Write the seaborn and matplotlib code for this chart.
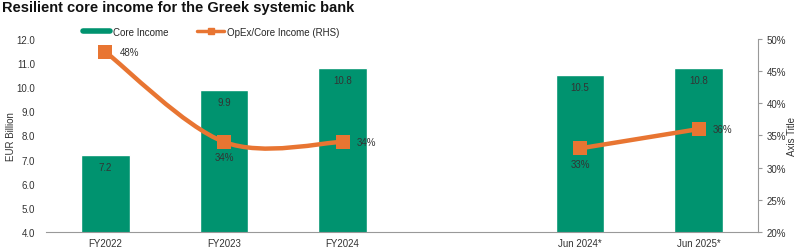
import numpy as np
import pandas as pd
import matplotlib
matplotlib.use("Agg")
import matplotlib.pyplot as plt
from matplotlib.path import Path
from matplotlib.patches import PathPatch
from matplotlib.lines import Line2D
import seaborn as sns

categories = ["FY2022", "FY2023", "FY2024", "", "Jun 2024*", "Jun 2025*"]
core_income = [7.2, 9.9, 10.8, np.nan, 10.5, 10.8]
opex_ratio = [48, 34, 34, np.nan, 33, 36]
ratio_labels = ["48%", "34%", "34%", "", "33%", "36%"]
label_pos = ["right", "below", "right", "", "below", "right"]

BAR = "#00936F"
ORANGE = "#E87532"
TXT = "#333333"

sns.set_theme(style="white")
plt.rcParams["font.family"] = ["Liberation Sans", "DejaVu Sans"]

fig = plt.figure(figsize=(8.0, 2.51), dpi=100)
ax = fig.add_axes([0.0575, 0.0717, 0.89, 0.769])

df = pd.DataFrame({"cat": categories, "val": core_income})
sns.barplot(data=df, x="cat", y="val", order=categories, color=BAR, width=0.41,
            saturation=1, ax=ax, errorbar=None)
ax.set_xlim(-0.5, 5.5)
ax.set_ylim(4, 12)
ax.set_yticks(np.arange(4, 12.01, 1))
ax.set_yticklabels([f"{v:.1f}" for v in np.arange(4, 12.01, 1)], fontsize=7, color=TXT)
ax.set_xlabel("")
ax.set_ylabel("EUR Billion", fontsize=7, color=TXT, labelpad=0)
ax.tick_params(axis="y", length=0, pad=8)
ax.tick_params(axis="x", which="major", length=0, labelsize=7, labelcolor=TXT, pad=4)
ax.set_xticks(np.arange(0.5, 5.5, 1), minor=True)
ax.tick_params(axis="x", which="minor", length=3, color="#999999", width=0.8)
for s in ["left", "top", "right"]:
    ax.spines[s].set_visible(False)
ax.spines["bottom"].set_color("#999999")
ax.spines["bottom"].set_linewidth(0.8)

for i, v in enumerate(core_income):
    if not np.isnan(v):
        ax.text(i, v - 0.3, f"{v:.1f}", ha="center", va="top", fontsize=7, color=TXT)

ax2 = ax.twinx()
ax2.set_ylim(20, 50)
ax2.set_yticks(np.arange(20, 51, 5))
ax2.set_yticklabels([f"{v}%" for v in range(20, 51, 5)], fontsize=7, color=TXT)
ax2.tick_params(axis="y", length=3, color="#999999", width=0.8, pad=3)
for s in ["left", "top", "bottom"]:
    ax2.spines[s].set_visible(False)
ax2.spines["right"].set_color("#999999")
ax2.spines["right"].set_linewidth(0.8)
ax2.set_ylabel("Axis Title", fontsize=7, color=TXT, labelpad=1)

# smoothed (Excel-style) line through each contiguous segment
xs = np.arange(len(categories), dtype=float)
ys = np.array(opex_ratio, dtype=float)
segments = []
cur = []
for x, y in zip(xs, ys):
    if np.isnan(y):
        if cur:
            segments.append(cur)
        cur = []
    else:
        cur.append((x, y))
if cur:
    segments.append(cur)

for seg in segments:
    P = np.array(seg)
    n = len(P)
    verts = [tuple(P[0])]
    codes = [Path.MOVETO]
    for i in range(n - 1):
        pm = P[i - 1] if i > 0 else P[i]
        p0, p1 = P[i], P[i + 1]
        p2 = P[i + 2] if i + 2 < n else P[i + 1]
        c1 = p0 + (p1 - pm) / 6.0
        c2 = p1 - (p2 - p0) / 6.0
        verts += [tuple(c1), tuple(c2), tuple(p1)]
        codes += [Path.CURVE4] * 3
    ax2.add_patch(PathPatch(Path(verts, codes), facecolor="none", edgecolor=ORANGE,
                            lw=3.2, capstyle="round", zorder=3))

ldf = pd.DataFrame({"x": xs, "y": ys}).dropna()
sns.scatterplot(data=ldf, x="x", y="y", marker="s", s=110, color=ORANGE,
                edgecolor=ORANGE, linewidth=0, ax=ax2, zorder=4, legend=False)
ax2.set_xlabel("")
ax2.set_xlim(-0.5, 5.5)

for i, (v, lab, pos) in enumerate(zip(opex_ratio, ratio_labels, label_pos)):
    if np.isnan(v):
        continue
    if pos == "right":
        ax2.text(i + 0.12, v, lab, ha="left", va="center", fontsize=7, color=TXT, zorder=5)
    else:
        ax2.text(i, v - 1.6, lab, ha="center", va="top", fontsize=7, color=TXT, zorder=5)

handles = [Line2D([0], [0], color=BAR, lw=4),
           Line2D([0], [0], color=ORANGE, lw=2.5, marker="s", markersize=5)]
fig.legend(handles, ["Core Income", "OpEx/Core Income (RHS)"], loc="upper left",
           bbox_to_anchor=(0.093, 0.925), ncol=2, frameon=False, fontsize=7,
           handlelength=2.8, columnspacing=2.9, handletextpad=0.3)

fig.text(0.003, 0.998, "Resilient core income for the Greek systemic bank",
         fontsize=10.5, fontweight="bold", ha="left", va="top", color="#111111")

fig.savefig("out.png", dpi=100)
